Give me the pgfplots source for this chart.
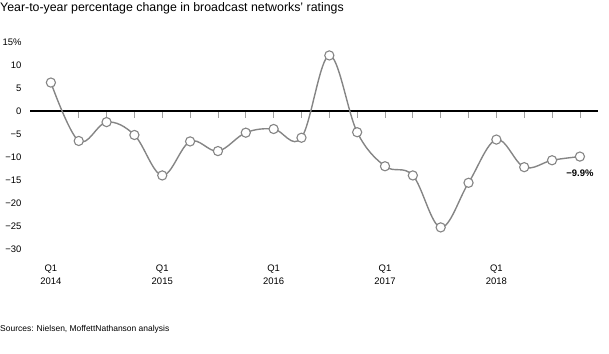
\documentclass[border=0pt]{standalone}
\usepackage{fontspec}
\setmainfont{Liberation Sans}
\usepackage{pgfplots}
\pgfplotsset{compat=1.18}
\definecolor{linegray}{HTML}{858585}
\begin{document}
\begin{tikzpicture}
\path[use as bounding box] (0,0) rectangle (609bp,354bp);
\node[anchor=north west, inner sep=0pt, font=\fontsize{12.4}{14}\selectfont] at (0,352bp) {Year-to-year percentage change in broadcast networks’ ratings};
\node[anchor=base west, inner sep=0pt, font=\fontsize{8.5}{10}\selectfont] at (0,23bp) {Sources: Nielsen, MoffettNathanson analysis};
\begin{axis}[
  at={(30bp,93.5bp)}, anchor=south west,
  scale only axis, width=568bp, height=223bp,
  xmin=-0.75, xmax=19.65, ymin=-32.5, ymax=16,
  axis line style={draw=none},
  major tick length=0pt,
  clip=false,
  ytick={-30,-25,...,15},
  yticklabels={−30,−25,−20,−15,−10,−5,0,5,10,15\%},
  yticklabel style={font=\fontsize{9.5}{10}\selectfont, anchor=east, xshift=-5bp},
  xtick={0,4,8,12,16},
  xticklabels={{Q1\\2014},{Q1\\2015},{Q1\\2016},{Q1\\2017},{Q1\\2018}},
  xticklabel style={font=\fontsize{9.5}{13}\selectfont, align=center, yshift=-1bp},
]
\pgfplotsinvokeforeach{1,...,19}{\draw[gray!75, line width=0.8bp] (axis cs:#1,0) -- (axis cs:#1,-1.5);}
\draw[black, line width=2.6bp] (axis cs:-0.75,0) -- (axis cs:19.65,0);
\addplot[linegray, line width=1.4bp, smooth, tension=0.6,
  mark=*, mark size=4.6bp, mark options={fill=white, draw=linegray, line width=1.1bp}]
  coordinates {
  (0,6.2) (1,-6.5) (2,-2.4) (3,-5.2) (4,-14.0) (5,-6.6) (6,-8.7) (7,-4.7)
  (8,-3.9) (9,-5.8) (10,12.1) (11,-4.6) (12,-12.0) (13,-14.0) (14,-25.3)
  (15,-15.6) (16,-6.2) (17,-12.2) (18,-10.7) (19,-9.9)
  };
\node[anchor=north, inner sep=0pt, font=\fontsize{9.5}{10}\selectfont\bfseries, yshift=-13bp] at (axis cs:19,-9.9) {−9.9\%};
\end{axis}
\end{tikzpicture}
\end{document}
